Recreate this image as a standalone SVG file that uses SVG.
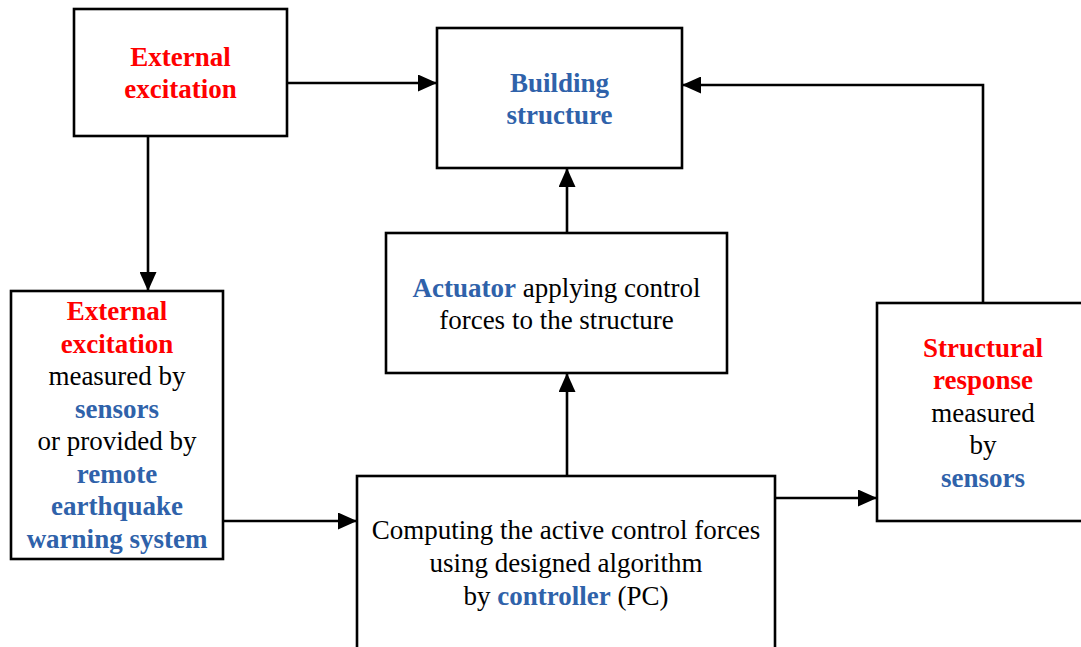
<svg xmlns="http://www.w3.org/2000/svg" width="1081" height="647" viewBox="0 0 1081 647">
<style>
.box{fill:#fff;stroke:#000;stroke-width:2.6}
.ln{fill:none;stroke:#000;stroke-width:2.6}
text{font-family:"Liberation Serif","Times New Roman",serif;font-size:27px;text-anchor:middle;fill:#000}
.r{fill:#ff0000;font-weight:bold}
.b{fill:#2f62aa;font-weight:bold}
</style>
<defs>
<marker id="ah" markerWidth="19" markerHeight="17" refX="19" refY="8.5" orient="auto" markerUnits="userSpaceOnUse">
<path d="M0,0 L19,8.5 L0,17 Z" fill="#000"/>
</marker>
</defs>
<rect width="1081" height="647" fill="#fff"/>
<g id="connectors">
<path class="ln" d="M287,83 H437" marker-end="url(#ah)"/>
<path class="ln" d="M148,137 V291" marker-end="url(#ah)"/>
<path class="ln" d="M567,233 V168" marker-end="url(#ah)"/>
<path class="ln" d="M567,476 V373" marker-end="url(#ah)"/>
<path class="ln" d="M223,521 H357" marker-end="url(#ah)"/>
<path class="ln" d="M775,498 H877" marker-end="url(#ah)"/>
<path class="ln" d="M983,303 V85 H682" marker-end="url(#ah)"/>
</g>
<g id="n-external">
<rect class="box" x="74" y="9" width="213" height="127"/>
<text x="180.5" y="66" class="r">External</text>
<text x="180.5" y="98" class="r">excitation</text>
</g>
<g id="n-building">
<rect class="box" x="437" y="28" width="245" height="140"/>
<text x="559.5" y="92" class="b">Building</text>
<text x="559.5" y="124" class="b">structure</text>
</g>
<g id="n-actuator">
<rect class="box" x="386" y="233" width="341" height="140"/>
<text x="556.5" y="296.5"><tspan class="b">Actuator</tspan> applying control</text>
<text x="556.5" y="329">forces to the structure</text>
</g>
<g id="n-measured">
<rect class="box" x="11" y="291" width="212" height="268"/>
<text x="117" y="320" class="r">External</text>
<text x="117" y="352.5" class="r">excitation</text>
<text x="117" y="385">measured by</text>
<text x="117" y="417.5" class="b">sensors</text>
<text x="117" y="450">or provided by</text>
<text x="117" y="482.5" class="b">remote</text>
<text x="117" y="515" class="b">earthquake</text>
<text x="117" y="547.5" class="b">warning system</text>
</g>
<g id="n-controller">
<rect class="box" x="357" y="476" width="418" height="190"/>
<text x="566" y="539">Computing the active control forces</text>
<text x="566" y="572">using designed algorithm</text>
<text x="566" y="605">by <tspan class="b">controller</tspan> (PC)</text>
</g>
<g id="n-response">
<rect class="box" x="877" y="303" width="213" height="218"/>
<text x="983" y="356.5" class="r">Structural</text>
<text x="983" y="389" class="r">response</text>
<text x="983" y="421.5">measured</text>
<text x="983" y="454">by</text>
<text x="983" y="486.5" class="b">sensors</text>
</g>
</svg>
